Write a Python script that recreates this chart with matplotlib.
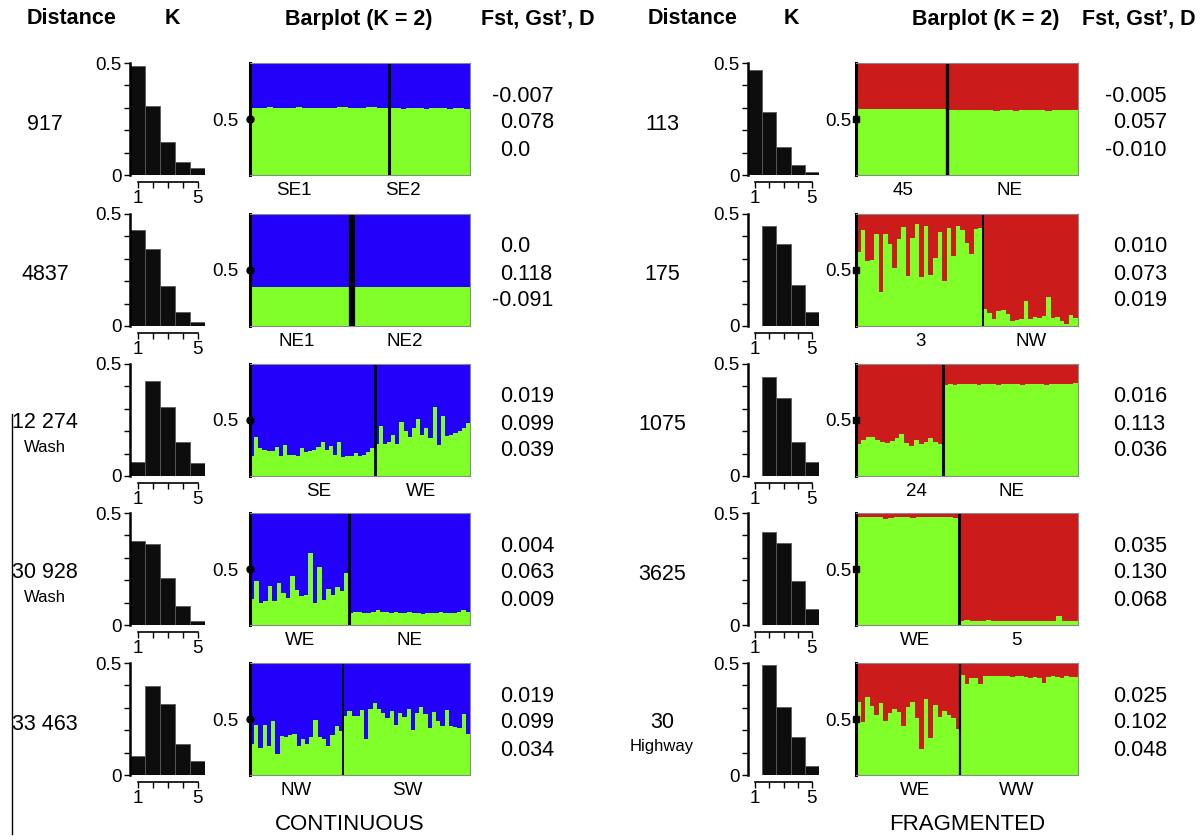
import matplotlib.pyplot as plt
from matplotlib.lines import Line2D

plt.rcParams['font.family'] = ['Liberation Sans', 'DejaVu Sans']

W, H = 1203, 840

BLUE = '#2200FA'
GREEN = '#80FF28'
RED = '#CC1B1B'

# ---------------- data ----------------
headers = ["Distance", "K", "Barplot (K = 2)", "Fst, Gst\u2019, D"]

cont_dist = ["917", "4837", "12 274", "30 928", "33 463"]
cont_note = ["", "", "Wash", "Wash", ""]
cont_groups = [("SE1", "SE2"), ("NE1", "NE2"), ("SE", "WE"), ("WE", "NE"), ("NW", "SW")]
cont_stats = [("-0.007", "0.078", "0.0"), ("0.0", "0.118", "-0.091"),
              ("0.019", "0.099", "0.039"), ("0.004", "0.063", "0.009"),
              ("0.019", "0.099", "0.034")]
cont_hist = [[0.485, 0.306, 0.149, 0.060, 0.030],
             [0.427, 0.344, 0.179, 0.064, 0.020],
             [0.064, 0.424, 0.306, 0.153, 0.056],
             [0.376, 0.360, 0.212, 0.083, 0.020],
             [0.083, 0.399, 0.317, 0.138, 0.064]]

frag_dist = ["113", "175", "1075", "3625", "30"]
frag_note = ["", "", "", "", "Highway"]
frag_groups = [("45", "NE"), ("3", "NW"), ("24", "NE"), ("WE", "5"), ("WE", "WW")]
frag_stats = [("-0.005", "0.057", "-0.010"), ("0.010", "0.073", "0.019"),
              ("0.016", "0.113", "0.036"), ("0.035", "0.130", "0.068"),
              ("0.025", "0.102", "0.048")]
frag_hist = [[0.467, 0.283, 0.126, 0.045, 0.012],
             [0.0, 0.447, 0.364, 0.184, 0.063],
             [0.0, 0.440, 0.346, 0.154, 0.063],
             [0.0, 0.417, 0.368, 0.197, 0.071],
             [0.0, 0.490, 0.303, 0.168, 0.042]]

# membership in the green cluster, one value per individual
q_917_se1 = [0.60, 0.60, 0.60, 0.605, 0.60, 0.60, 0.60, 0.60, 0.605, 0.60, 0.60, 0.60,
             0.60, 0.60, 0.60, 0.605, 0.605, 0.60, 0.60, 0.60, 0.605, 0.605, 0.60, 0.60]
q_917_se2 = [0.595, 0.595, 0.59, 0.595, 0.595, 0.595, 0.59, 0.595, 0.595, 0.595, 0.59,
             0.595, 0.595, 0.59]
q_4837_ne1 = [0.35] * 12
q_4837_ne2 = [0.35] * 14
q_12274_se = [0.18, 0.35, 0.25, 0.235, 0.22, 0.22, 0.26, 0.18, 0.275, 0.19, 0.19, 0.18,
              0.25, 0.21, 0.22, 0.235, 0.26, 0.305, 0.23, 0.265, 0.19, 0.305, 0.17, 0.175,
              0.18, 0.205, 0.18, 0.19, 0.21, 0.25]
q_12274_we = [0.29, 0.45, 0.285, 0.30, 0.37, 0.29, 0.48, 0.40, 0.35, 0.43, 0.505, 0.37,
              0.43, 0.335, 0.62, 0.275, 0.54, 0.36, 0.37, 0.38, 0.40, 0.43, 0.475]
q_30928_we = [0.23, 0.395, 0.195, 0.21, 0.345, 0.21, 0.375, 0.285, 0.24, 0.44, 0.31,
              0.255, 0.27, 0.64, 0.195, 0.52, 0.225, 0.32, 0.27, 0.34, 0.30, 0.46]
q_30928_ne = [0.11, 0.12, 0.12, 0.11, 0.11, 0.12, 0.13, 0.12, 0.12, 0.11, 0.12, 0.11,
              0.11, 0.12, 0.11, 0.11, 0.10, 0.11, 0.11, 0.11, 0.12, 0.11, 0.11, 0.11,
              0.12, 0.13, 0.12]
q_33463_nw = [0.28, 0.45, 0.245, 0.45, 0.26, 0.48, 0.185, 0.35, 0.34, 0.355, 0.37, 0.26,
              0.32, 0.275, 0.335, 0.49, 0.34, 0.32, 0.255, 0.36, 0.435, 0.39]
q_33463_sw = [0.525, 0.57, 0.53, 0.525, 0.58, 0.325, 0.59, 0.64, 0.585, 0.555, 0.51, 0.57,
              0.45, 0.555, 0.52, 0.59, 0.40, 0.55, 0.61, 0.545, 0.42, 0.56, 0.48, 0.435,
              0.58, 0.44, 0.43, 0.42, 0.545, 0.37]

q_113_45 = [0.585, 0.585, 0.585, 0.585, 0.59, 0.585, 0.585, 0.585, 0.585, 0.585, 0.59,
            0.59, 0.585, 0.585]
q_113_ne = [0.58, 0.58, 0.578, 0.578, 0.58, 0.578, 0.578, 0.575, 0.578, 0.578, 0.575,
            0.578, 0.58, 0.578, 0.578, 0.575, 0.578, 0.578, 0.58, 0.578]
q_175_3 = [0.657, 0.857, 0.58, 0.59, 0.82, 0.30, 0.825, 0.735, 0.52, 0.775, 0.88, 0.45,
           0.785, 0.915, 0.44, 0.895, 0.455, 0.61, 0.835, 0.40, 0.875, 0.625, 0.895,
           0.857, 0.745, 0.64, 0.865, 0.875]
q_175_nw = [0.15, 0.12, 0.06, 0.135, 0.14, 0.105, 0.045, 0.05, 0.06, 0.225, 0.06, 0.08,
            0.075, 0.09, 0.26, 0.075, 0.08, 0.045, 0.02, 0.10, 0.075]
q_1075_24 = [0.285, 0.32, 0.345, 0.35, 0.32, 0.30, 0.295, 0.315, 0.335, 0.375, 0.295,
             0.265, 0.32, 0.285, 0.30, 0.335, 0.30, 0.285]
q_1075_ne = [0.81, 0.82, 0.815, 0.82, 0.82, 0.825, 0.82, 0.81, 0.82, 0.825, 0.82, 0.815,
             0.82, 0.825, 0.82, 0.82, 0.815, 0.82, 0.82, 0.825, 0.82, 0.815, 0.82, 0.82,
             0.825, 0.82, 0.82, 0.83]
q_3625_we = [0.965, 0.965, 0.96, 0.965, 0.96, 0.95, 0.955, 0.96, 0.965, 0.96, 0.955,
             0.965, 0.96, 0.965, 0.96, 0.965, 0.96, 0.965, 0.955]
q_3625_5 = [0.04, 0.045, 0.04, 0.035, 0.04, 0.045, 0.04, 0.035, 0.04, 0.04, 0.035, 0.04,
            0.035, 0.035, 0.04, 0.04, 0.035, 0.04, 0.08, 0.035, 0.04, 0.04]
q_30_we = [0.65, 0.475, 0.695, 0.62, 0.535, 0.64, 0.48, 0.55, 0.59, 0.565, 0.435, 0.605,
           0.65, 0.505, 0.235, 0.675, 0.33, 0.625, 0.52, 0.57, 0.54, 0.51, 0.415]
q_30_ww = [0.89, 0.81, 0.87, 0.87, 0.81, 0.88, 0.885, 0.885, 0.88, 0.885, 0.885, 0.875,
           0.88, 0.88, 0.875, 0.87, 0.875, 0.87, 0.82, 0.875, 0.88, 0.875, 0.87, 0.88,
           0.875, 0.875]

cont_q = [(q_917_se1, q_917_se2), (q_4837_ne1, q_4837_ne2), (q_12274_se, q_12274_we),
          (q_30928_we, q_30928_ne), (q_33463_nw, q_33463_sw)]
frag_q = [(q_113_45, q_113_ne), (q_175_3, q_175_nw), (q_1075_24, q_1075_ne),
          (q_3625_we, q_3625_5), (q_30_we, q_30_ww)]

# ---------------- layout (pixels) ----------------
row_tops = [63, 214, 364, 513, 663]
row_h = 112

fig = plt.figure(figsize=(W / 100, H / 100), dpi=100)


def px_axes(x0, y0, x1, y1):
    return fig.add_axes([x0 / W, 1 - y1 / H, (x1 - x0) / W, (y1 - y0) / H])


def px_text(x, y, s, **kw):
    fig.text(x / W, 1 - y / H, s, va='center', **kw)


def draw_hist(ax, heights):
    ks = list(range(1, len(heights) + 1))
    ax.bar(ks, heights, width=1.0, color='#0d0d0d', edgecolor='#5a5a5a', linewidth=0.6)
    ax.set_xlim(0.5, 5.5)
    ax.set_ylim(0, 0.5)
    ax.spines['top'].set_visible(False)
    ax.spines['right'].set_visible(False)
    ax.spines['left'].set_linewidth(1.8)
    ax.spines['left'].set_bounds(0, 0.5)
    ax.spines['bottom'].set_position(('outward', 5))
    ax.spines['bottom'].set_bounds(1, 5)
    ax.spines['bottom'].set_linewidth(1.2)
    ax.set_yticks([0, 0.1, 0.2, 0.3, 0.4, 0.5])
    ax.set_yticklabels(['0', '', '', '', '', '0.5'])
    ax.set_xticks(ks)
    ax.set_xticklabels(['1', '', '', '', '5'])
    ax.tick_params(length=4, width=1, labelsize=13.5, pad=2)
    ax.patch.set_alpha(0)


def draw_structure(ax, q1, q2, top_color, div_lw, marker, lab_pos, labels, lab_pad):
    q = q1 + q2
    x = list(range(len(q)))
    ax.bar(x, q, width=1.0, color=GREEN, linewidth=0)
    ax.bar(x, [1 - v for v in q], bottom=q, width=1.0, color=top_color, linewidth=0)
    ax.set_xlim(-0.5, len(q) - 0.5)
    ax.set_ylim(0, 1)
    ax.axvline(len(q1) - 0.5, color='black', lw=div_lw)
    for s in ['top', 'right', 'bottom']:
        ax.spines[s].set_color('#8a8a8a')
        ax.spines[s].set_linewidth(0.8)
    ax.spines['left'].set_linewidth(2.2)
    ax.set_xticks([])
    ax.set_yticks([0.5])
    ax.set_yticklabels(['0.5'])
    ax.tick_params(axis='y', length=0, labelsize=13.5, pad=lab_pad)
    ax.plot([-0.5], [0.5], marker=marker, color='black', ms=5, clip_on=False, zorder=5)
    for fx, lab in zip(lab_pos, labels):
        ax.text(fx, -0.135, lab, transform=ax.transAxes, ha='center', va='center',
                fontsize=13.5)


# label positions (axes fraction) under each barplot
cont_lab_pos = [(0.20, 0.695), (0.21, 0.705), (0.31, 0.777), (0.227, 0.727), (0.21, 0.713)]
frag_lab_pos = [(0.21, 0.69), (0.29, 0.79), (0.27, 0.70), (0.265, 0.725), (0.265, 0.725)]
cont_div_lw = [2.2, 4.5, 2.0, 2.2, 1.4]
frag_div_lw = [2.4, 1.4, 2.2, 2.2, 1.6]

panels = [
    dict(dist=cont_dist, note=cont_note, groups=cont_groups, stats=cont_stats,
         hist=cont_hist, q=cont_q, color=BLUE, marker='o', lab_pos=cont_lab_pos,
         div_lw=cont_div_lw, dist_x=45, hist_x=(130, 205), bar_x=(250, 470),
         stat_x=500, lab_pad=8, head_x=(72, 172, 359, 538), foot='CONTINUOUS', foot_x=350),
    dict(dist=frag_dist, note=frag_note, groups=frag_groups, stats=frag_stats,
         hist=frag_hist, q=frag_q, color=RED, marker='s', lab_pos=frag_lab_pos,
         div_lw=frag_div_lw, dist_x=662, hist_x=(748, 819), bar_x=(856, 1078),
         stat_x=1113, lab_pad=3, head_x=(693, 791, 986, 1139), foot='FRAGMENTED', foot_x=967),
]

for p in panels:
    for hx, h in zip(p['head_x'], headers):
        px_text(hx, 19, h, ha='center', fontsize=15.5, fontweight='bold')
    for i, top in enumerate(row_tops):
        bot = top + row_h
        mid = top + row_h / 2
        hax = px_axes(p['hist_x'][0], top, p['hist_x'][1], bot)
        draw_hist(hax, p['hist'][i])
        sax = px_axes(p['bar_x'][0], top, p['bar_x'][1], bot)
        q1, q2 = p['q'][i]
        draw_structure(sax, q1, q2, p['color'], p['div_lw'][i], p['marker'],
                       p['lab_pos'][i], p['groups'][i], p['lab_pad'])
        if p['note'][i]:
            px_text(p['dist_x'], mid + 3, p['dist'][i], ha='center', fontsize=15.5)
            px_text(p['dist_x'], mid + 28, p['note'][i], ha='center', fontsize=12)
        else:
            px_text(p['dist_x'], mid + 5, p['dist'][i], ha='center', fontsize=15.5)
        for j, s in enumerate(p['stats'][i]):
            sx = p['stat_x'] - 8 if s.startswith('-') else p['stat_x']
            px_text(sx, mid + 4 + (j - 1) * 27, s, ha='left', fontsize=15.5)
    px_text(p['foot_x'], 825, p['foot'], ha='center', fontsize=16)

fig.add_artist(Line2D([12 / W, 12 / W], [1 - 414 / H, 1 - 834 / H],
                      color='black', lw=1.0, transform=fig.transFigure))

fig.savefig('out.png', dpi=100)
